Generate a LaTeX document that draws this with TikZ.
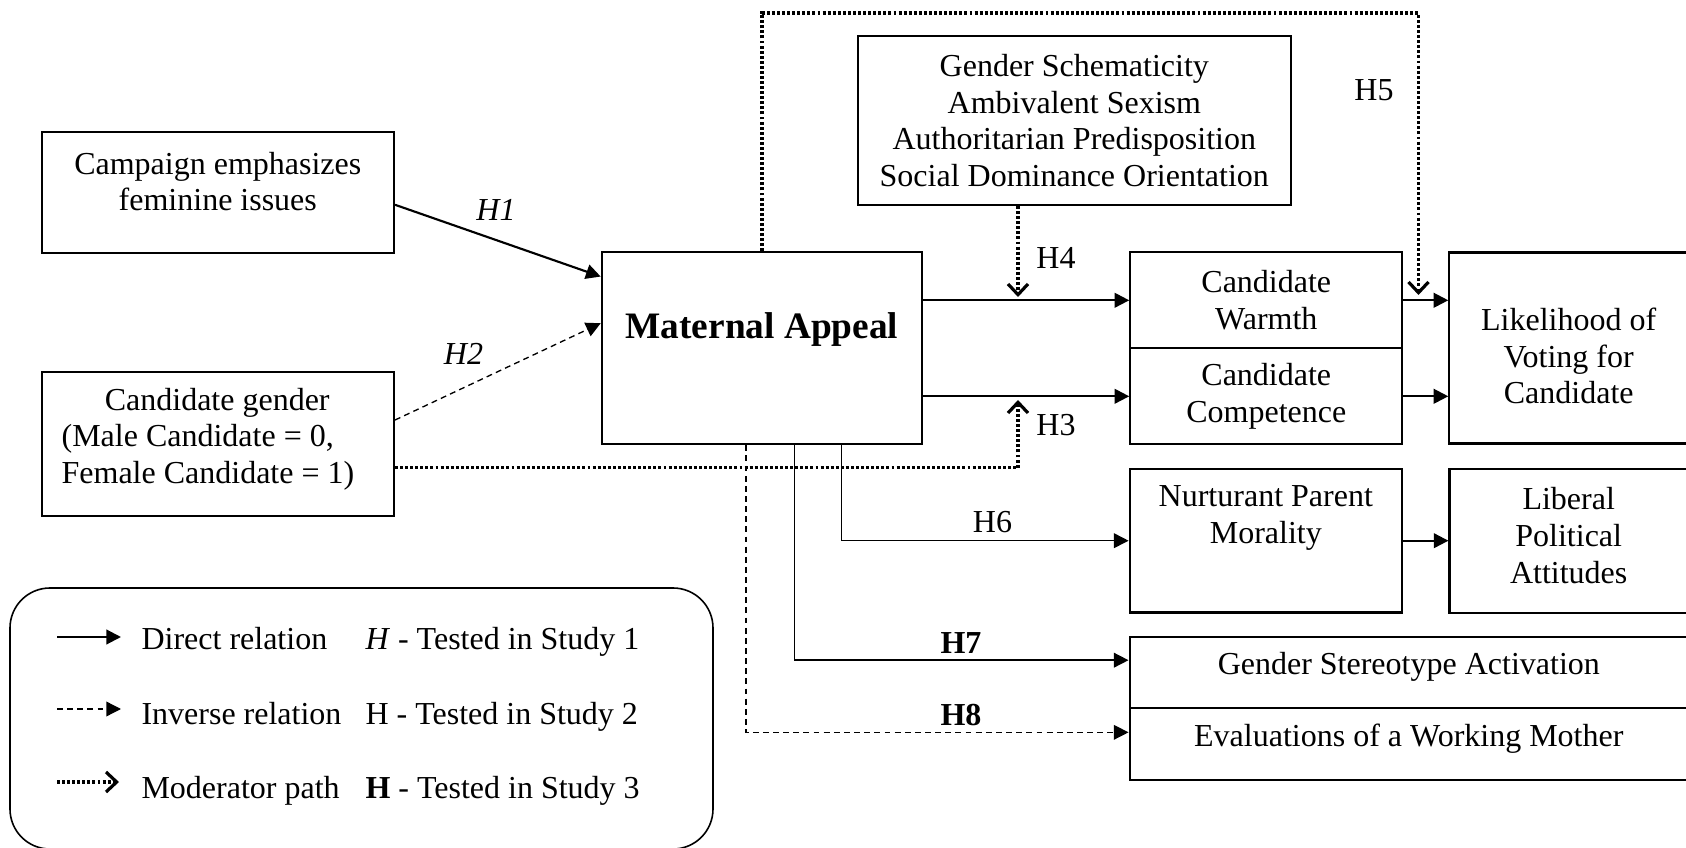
\documentclass[tikz,border=0pt]{standalone}
\usepackage{fontspec}
\setmainfont{Liberation Serif}
\usetikzlibrary{arrows.meta}
\tikzset{
  box/.style={draw,line width=0.8pt,inner sep=0pt},
  txt/.style={align=center},
  direct/.style={line width=0.8pt,-{Triangle[length=5.5pt,width=5.5pt]}},
  inverse/.style={line width=0.5pt,dash pattern=on 2.2pt off 1.6pt,-{Triangle[length=5.5pt,width=5.5pt]}},
  moder/.style={line width=1.2pt,dash pattern=on 1.1pt off 0.8pt,-{Straight Barb[length=4pt,width=7.5pt]}},
}
\begin{document}
\begin{tikzpicture}[x=0.375pt,y=-0.375pt,font=\fontsize{12}{13.8}\selectfont]
  \useasboundingbox (0,0) rectangle (1686,848);
  % boxes
  \node[box,minimum width=132.1pt,minimum height=45.2pt,
    label={[txt,yshift=4.1pt]center:{Campaign emphasizes\\feminine issues}}] (camp) at (217.8,192.5) {};
  \node[box,minimum width=132.1pt,minimum height=54pt,
    label={[align=left,xshift=-3.7pt,yshift=1.9pt]center:{\hspace*{16.2pt}Candidate gender\\(Male Candidate = 0,\\Female Candidate = 1)}}] (cgen) at (217.8,444.3) {};
  \node[box,minimum width=120.1pt,minimum height=72pt,
    label={[font=\fontsize{14}{16}\selectfont\bfseries,yshift=6.9pt]center:Maternal Appeal}] (mat) at (761.9,348.3) {};
  \node[box,minimum width=162.2pt,minimum height=63.4pt,
    label={[txt]center:{Gender Schematicity\\Ambivalent Sexism\\Authoritarian Predisposition\\Social Dominance Orientation}}] (mods) at (1074.3,120.5) {};
  \node[box,minimum width=102pt,minimum height=36pt,
    label={[txt]center:{Candidate\\Warmth}}] (warm) at (1266.3,300.3) {};
  \node[box,minimum width=102pt,minimum height=36pt,
    label={[txt]center:{Candidate\\Competence}}] (comp) at (1266.3,396.3) {};
  \node[box,minimum width=89.5pt,minimum height=71.6pt,
    label={[txt,yshift=-3pt]center:{Likelihood of\\Voting for\\Candidate}}] (like) at (1568.7,348) {};
  \node[box,minimum width=102.1pt,minimum height=53.8pt,
    label={[txt,yshift=8.6pt]center:{Nurturant Parent\\Morality}}] (nurt) at (1265.8,540.7) {};
  \node[box,minimum width=89.4pt,minimum height=54pt,
    label={[txt,yshift=2pt]center:{Liberal\\Political\\Attitudes}}] (libr) at (1568.7,540.6) {};
  \node[box,minimum width=209.4pt,minimum height=26.6pt,
    label={[txt,yshift=2pt]center:Gender Stereotype Activation}] (ster) at (1408.8,672.2) {};
  \node[box,minimum width=209.4pt,minimum height=27.1pt,
    label={[txt,yshift=2pt]center:Evaluations of a Working Mother}] (eval) at (1408.8,743.8) {};

  % path labels
  \node (h1lab) at (496,210) {\textit{H1}};
  \node (h2lab) at (463.5,354.3) {\textit{H2}};
  \node (h3lab) at (1056,425) {H3};
  \node (h4lab) at (1056,258) {H4};
  \node (h5lab) at (1374,90) {H5};
  \node (h6lab) at (992.5,521.7) {H6};
  \node (h7lab) at (961,642.7) {\textbf{H7}};
  \node (h8lab) at (961,715) {\textbf{H8}};

  \coordinate (h3) at (1018,400);
  \coordinate (h4) at (1018,297);
  \coordinate (h5top) at (1418.5,13);
  \coordinate (h5) at (1418.5,295);

  % connectors
  \draw[direct] ([yshift=-4.6pt]camp.east) -- ([yshift=26.9pt]mat.west);
  \draw[inverse] ([yshift=9.1pt]cgen.east) -- ([yshift=9.4pt]mat.west);
  \draw[direct] (mat.east |- warm.west) -- (warm.west);
  \draw[direct] (mat.east |- comp.west) -- (comp.west);
  \draw[direct] (warm.east) -- (warm.east -| like.west);
  \draw[direct] (comp.east) -- (comp.east -| like.west);
  \draw[direct] (nurt.east) -- (nurt.east -| libr.west);
  \draw[direct,line width=0.6pt] ([xshift=29.9pt]mat.south) |- (nurt.west);
  \draw[direct,line width=0.6pt] ([xshift=12.2pt]mat.south) |- ([yshift=4.5pt]ster.west);
  \draw[inverse] ([xshift=-6pt]mat.south) |- ([yshift=4.3pt]eval.west);
  \draw[moder] ([yshift=-8.8pt]cgen.east) -| (h3);
  \draw[moder] (mods.south -| h4) -- (h4);
  \draw[moder] (mat.north) |- (h5top) -- (h5);

  % legend
  \draw[line width=0.6pt,rounded corners=15pt] (10,588) rectangle (713,849);
  \coordinate (l1a) at (57,637); \coordinate (l1b) at (121,637);
  \coordinate (l2a) at (57,709); \coordinate (l2b) at (121,709);
  \coordinate (l3a) at (57,782); \coordinate (l3b) at (119,782);
  \draw[direct] (l1a) -- (l1b);
  \draw[inverse] (l2a) -- (l2b);
  \draw[moder] (l3a) -- (l3b);
  \node[anchor=base west,inner sep=0pt] (d1) at (141,650) {Direct relation};
  \node[anchor=base west,inner sep=0pt] (d2) at (141,724) {Inverse relation};
  \node[anchor=base west,inner sep=0pt] (d3) at (141,798) {Moderator path};
  \node[anchor=base west,inner sep=0pt] (s1) at (365,650) {\textit{H} - Tested in Study 1};
  \node[anchor=base west,inner sep=0pt] (s2) at (365,724) {H - Tested in Study 2};
  \node[anchor=base west,inner sep=0pt] (s3) at (365,798) {\textbf{H} - Tested in Study 3};
\end{tikzpicture}
\end{document}
